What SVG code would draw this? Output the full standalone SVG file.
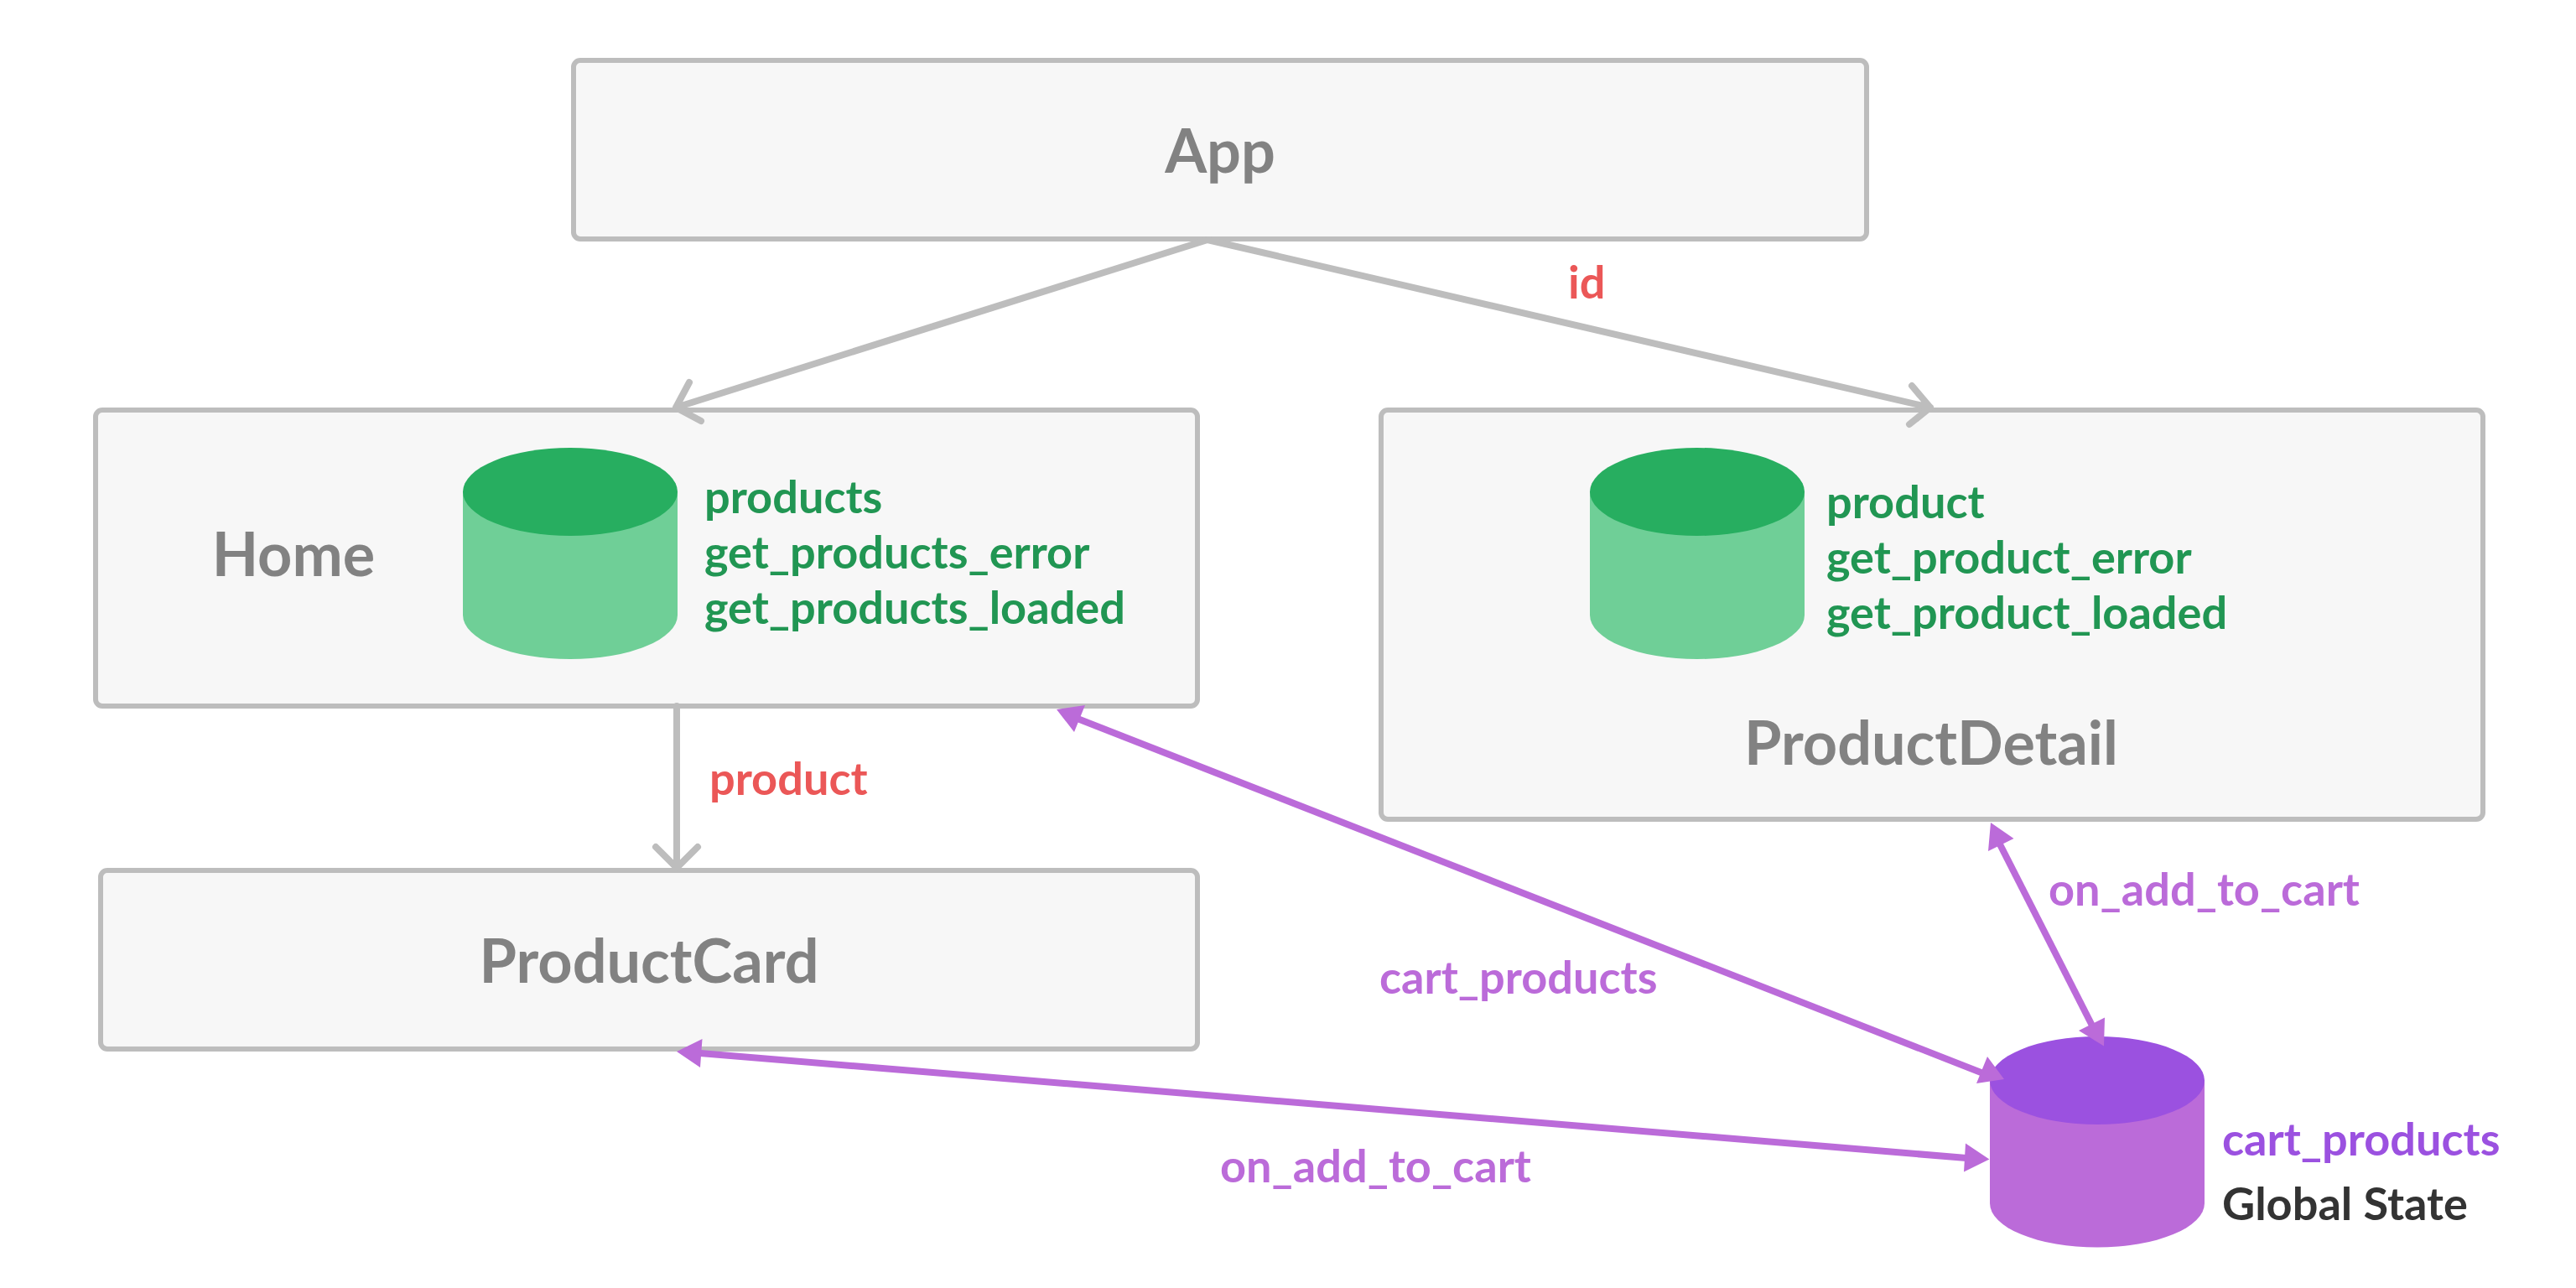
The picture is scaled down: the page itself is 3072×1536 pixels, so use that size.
<svg xmlns="http://www.w3.org/2000/svg" width="3072" height="1536" viewBox="0 0 3072 1536">
<style>
text{font-family:Lato,"Noto Sans",sans-serif;font-weight:700}
.box{fill:#f7f7f7;stroke:#bdbdbd;stroke-width:6}
.title{font-size:72px;fill:#828282}
.g{font-size:54.100px;fill:#219653}
.r{font-size:54.100px;fill:#eb5757}
.p{font-size:54.100px;fill:#bb6bd9}
.gl{stroke:#bdbdbd;stroke-width:8;fill:none;stroke-linecap:round;stroke-linejoin:round}
.pl{stroke:#bb6bd9;stroke-width:8;fill:none}
.ph{fill:#bb6bd9}
</style>
<g id="app"><rect class="box" x="684" y="72" width="1542" height="213" rx="8"/><text class="title" x="1455" y="206" text-anchor="middle">App</text></g>
<g id="home"><rect class="box" x="114" y="489" width="1314" height="353" rx="8"/><text class="title" x="350" y="687" text-anchor="middle">Home</text>
<path d="M552 586.5V733.5A128 52.5 0 0 0 808 733.5V586.5Z" fill="#6fcf97"/><ellipse cx="680" cy="586.5" rx="128" ry="52.5" fill="#27ae60"/>
<text class="g" x="840" y="612">products</text><text class="g" x="840" y="678">get_products_error</text><text class="g" x="840" y="744">get_products_loaded</text></g>
<g id="product-detail"><rect class="box" x="1647" y="489" width="1314" height="488" rx="8"/><text class="title" x="2303" y="912" text-anchor="middle">ProductDetail</text>
<path d="M1896 586.5V733.5A128 52.5 0 0 0 2152 733.5V586.5Z" fill="#6fcf97"/><ellipse cx="2024" cy="586.5" rx="128" ry="52.5" fill="#27ae60"/>
<text class="g" x="2178" y="618">product</text><text class="g" x="2178" y="684">get_product_error</text><text class="g" x="2178" y="750">get_product_loaded</text></g>
<g id="product-card"><rect class="box" x="120" y="1038" width="1308" height="213" rx="8"/><text class="title" x="774" y="1172" text-anchor="middle">ProductCard</text></g>
<g id="global-state"><path d="M2373 1288.5V1435A128 52.5 0 0 0 2629 1435V1288.5Z" fill="#bb6bd9"/><ellipse cx="2501" cy="1288.5" rx="128" ry="52.5" fill="#9b51e0"/>
<text x="2650" y="1378" font-size="54.100" fill="#9b51e0">cart_products</text><text x="2650" y="1455" font-size="54.100" fill="#333333">Global State</text></g>
<g id="connectors">
<path class="gl" d="M1440 286L806 486M822 456L806 486L836 502"/>
<path class="gl" d="M1440 286L2302 486M2280 460L2302 486L2277 506"/>
<path class="gl" d="M807 842V1033M782 1010L807 1035L832 1010"/>
<path class="pl" d="M2383 1003L2496 1225"/><path class="ph" d="M2374 981L2401.500 1000L2371 1015ZM2509 1247.500L2479 1229L2510 1213.600Z"/>
<path class="pl" d="M1285 857L2365 1280"/><path class="ph" d="M1260 846L1294 841L1281 873ZM2390 1287L2370 1260L2357 1292Z"/>
<path class="pl" d="M835 1256L2345 1381"/><path class="ph" d="M807 1254L837.500 1239L835 1273ZM2372.400 1382.500L2344 1363.600L2342 1397.500Z"/>
</g>
<g id="labels">
<text class="r" x="1870" y="356">id</text>
<text class="r" x="846" y="948">product</text>
<text class="p" x="1645" y="1185">cart_products</text>
<text class="p" x="2443" y="1080">on_add_to_cart</text>
<text class="p" x="1455" y="1410">on_add_to_cart</text>
</g>
</svg>
